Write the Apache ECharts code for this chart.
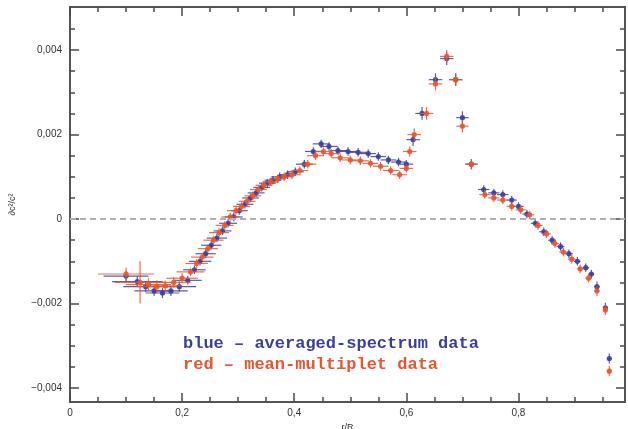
<!DOCTYPE html>
<html>
<head>
<meta charset="utf-8">
<script src="https://cdn.jsdelivr.net/npm/echarts@6/dist/echarts.min.js"></script>
<style>
  html, body { margin: 0; padding: 0; background: #ffffff; }
  #chart { width: 628px; height: 429px; }
</style>
</head>
<body>
<div id="chart"></div>
<script>
// Sound-speed difference profile: averaged-spectrum vs mean-multiplet inversions
const xMajor = [0, 0.2, 0.4, 0.6, 0.8];
const xMinor = [0.05, 0.1, 0.15, 0.25, 0.3, 0.35, 0.45, 0.5, 0.55, 0.65, 0.7, 0.75, 0.85, 0.9, 0.95];
const yMajor = [-0.004, -0.002, 0, 0.002, 0.004];
const yMinor = [-0.0035, -0.003, -0.0025, -0.0015, -0.001, -0.0005, 0.0005, 0.001, 0.0015, 0.0025, 0.003, 0.0035, 0.0045];

// averaged-spectrum data: radius, value, radial half-width, value error
const blueR = [0.10, 0.12, 0.135, 0.15, 0.165, 0.18, 0.195, 0.21, 0.222, 0.232, 0.242, 0.252, 0.262, 0.272, 0.282, 0.292, 0.302, 0.312, 0.322, 0.332, 0.342, 0.352, 0.362, 0.374, 0.388, 0.402, 0.418, 0.434, 0.448, 0.462, 0.478, 0.496, 0.514, 0.532, 0.55, 0.568, 0.586, 0.60, 0.612, 0.628, 0.652, 0.672, 0.688, 0.70, 0.716, 0.738, 0.756, 0.772, 0.788, 0.80, 0.815, 0.83, 0.845, 0.86, 0.875, 0.89, 0.905, 0.92, 0.93, 0.94, 0.955, 0.962];
const blueV = [-0.00135, -0.00148, -0.0016, -0.0017, -0.00175, -0.0017, -0.0016, -0.00145, -0.0012, -0.001, -0.00082, -0.00062, -0.00045, -0.00028, -0.0001, 0.00005, 0.0002, 0.00035, 0.0005, 0.00062, 0.00075, 0.00085, 0.00092, 0.001, 0.00105, 0.00112, 0.0013, 0.0016, 0.00178, 0.00172, 0.00162, 0.0016, 0.00158, 0.00155, 0.00148, 0.0014, 0.00135, 0.0013, 0.00188, 0.0025, 0.0033, 0.0038, 0.0033, 0.0024, 0.0013, 0.0007, 0.00062, 0.00058, 0.00045, 0.0003, 0.00012, -0.0001, -0.0003, -0.0005, -0.00065, -0.00082, -0.001, -0.00115, -0.0013, -0.0016, -0.0021, -0.0033];
const blueDR = [0.04, 0.045, 0.04, 0.035, 0.03, 0.03, 0.03, 0.025, 0.02, 0.02, 0.018, 0.018, 0.018, 0.016, 0.016, 0.016, 0.015, 0.015, 0.015, 0.015, 0.015, 0.015, 0.015, 0.015, 0.015, 0.015, 0.015, 0.015, 0.015, 0.015, 0.015, 0.015, 0.015, 0.014, 0.014, 0.014, 0.013, 0.012, 0.012, 0.012, 0.012, 0.012, 0.012, 0.011, 0.011, 0.01, 0.01, 0.01, 0.009, 0.009, 0.008, 0.008, 0.008, 0.007, 0.007, 0.007, 0.006, 0.006, 0.005, 0.005, 0.004, 0.004];
const blueDV = [0.00012, 0.00012, 0.00012, 0.00012, 0.00012, 0.00012, 0.00012, 0.0001, 0.0001, 0.0001, 0.0001, 0.0001, 0.0001, 0.0001, 0.0001, 0.0001, 0.0001, 0.0001, 0.0001, 0.0001, 0.0001, 0.0001, 0.0001, 0.0001, 0.0001, 0.0001, 0.0001, 0.0001, 0.0001, 0.0001, 0.0001, 0.0001, 0.0001, 0.0001, 0.0001, 0.0001, 0.0001, 0.0001, 0.00015, 0.00015, 0.00015, 0.00015, 0.00015, 0.00015, 0.00012, 0.0001, 0.0001, 0.0001, 0.0001, 0.0001, 0.0001, 0.0001, 0.0001, 0.0001, 0.0001, 0.0001, 0.0001, 0.0001, 0.0001, 0.00012, 0.00012, 0.00012];

// mean-multiplet data: radius, value, radial half-width, value error
const redR = [0.10, 0.125, 0.14, 0.155, 0.17, 0.185, 0.20, 0.215, 0.226, 0.236, 0.246, 0.256, 0.266, 0.276, 0.286, 0.296, 0.306, 0.316, 0.326, 0.336, 0.346, 0.358, 0.37, 0.382, 0.396, 0.41, 0.424, 0.438, 0.452, 0.466, 0.482, 0.50, 0.518, 0.536, 0.554, 0.572, 0.588, 0.60, 0.606, 0.614, 0.636, 0.652, 0.672, 0.688, 0.70, 0.716, 0.74, 0.756, 0.772, 0.788, 0.804, 0.82, 0.835, 0.85, 0.865, 0.88, 0.895, 0.91, 0.925, 0.94, 0.955, 0.962];
const redV = [-0.0013, -0.0015, -0.00155, -0.0016, -0.00158, -0.0015, -0.0014, -0.00125, -0.00105, -0.0009, -0.0007, -0.0005, -0.00032, -0.00015, 0.00005, 0.0002, 0.0003, 0.00042, 0.00055, 0.0007, 0.0008, 0.00088, 0.00095, 0.001, 0.00105, 0.00115, 0.0013, 0.0015, 0.0016, 0.00155, 0.00145, 0.0014, 0.00138, 0.00132, 0.00125, 0.00115, 0.00105, 0.0012, 0.0016, 0.002, 0.0025, 0.0032, 0.00385, 0.0033, 0.0022, 0.0013, 0.00058, 0.0005, 0.00045, 0.0003, 0.00022, 0.0001, -0.00015, -0.00035, -0.00058, -0.00078, -0.00095, -0.00118, -0.0014, -0.0017, -0.00215, -0.0036];
const redDR = [0.05, 0.045, 0.04, 0.035, 0.03, 0.03, 0.028, 0.025, 0.02, 0.02, 0.018, 0.018, 0.018, 0.016, 0.016, 0.016, 0.015, 0.015, 0.015, 0.015, 0.015, 0.015, 0.015, 0.015, 0.015, 0.015, 0.015, 0.015, 0.015, 0.015, 0.015, 0.015, 0.015, 0.014, 0.014, 0.014, 0.013, 0.012, 0.012, 0.012, 0.012, 0.012, 0.012, 0.012, 0.011, 0.011, 0.01, 0.01, 0.01, 0.009, 0.009, 0.008, 0.008, 0.008, 0.007, 0.007, 0.007, 0.006, 0.006, 0.005, 0.004, 0.004];
const redDV = [0.00015, 0.0005, 0.00015, 0.00015, 0.00012, 0.00012, 0.00012, 0.0001, 0.0001, 0.0001, 0.0001, 0.0001, 0.0001, 0.0001, 0.0001, 0.0001, 0.0001, 0.0001, 0.0001, 0.0001, 0.0001, 0.0001, 0.0001, 0.0001, 0.0001, 0.0001, 0.0001, 0.0001, 0.0001, 0.0001, 0.0001, 0.0001, 0.0001, 0.0001, 0.0001, 0.0001, 0.0001, 0.0001, 0.00012, 0.00015, 0.00015, 0.00015, 0.00015, 0.00015, 0.00015, 0.00012, 0.0001, 0.0001, 0.0001, 0.0001, 0.0001, 0.0001, 0.0001, 0.0001, 0.0001, 0.0001, 0.0001, 0.0001, 0.0001, 0.00012, 0.00012, 0.00012];

const blueLabel = 'blue – averaged-spectrum data';
const redLabel = 'red – mean-multiplet data';

const BLUE = '#3b3f9c';
const RED = '#e8552e';
const FRAME = '#4a4a4a';

function rows(r, v, dr, dv) {
  return r.map((x, i) => [x, v[i], dr[i], dv[i]]);
}

function fmtNum(v) {
  if (Math.abs(v) < 1e-12) return '0';
  const digits = Math.abs(v) < 0.01 ? 3 : 1;
  return v.toFixed(digits).replace('.', ',').replace('-', '−');
}

function errorBars(color) {
  return function (params, api) {
    const r = api.value(0), v = api.value(1), dr = api.value(2), dv = api.value(3);
    const c = api.coord([r, v]);
    const a = api.coord([r - dr, v]);
    const b = api.coord([r + dr, v]);
    const t = api.coord([r, v + dv]);
    const d = api.coord([r, v - dv]);
    const lineStyle = { stroke: color, lineWidth: 1.2, opacity: 0.85 };
    return {
      type: 'group',
      children: [
        { type: 'line', shape: { x1: a[0], y1: a[1], x2: b[0], y2: b[1] }, style: lineStyle },
        { type: 'line', shape: { x1: t[0], y1: t[1], x2: d[0], y2: d[1] }, style: lineStyle },
        { type: 'circle', shape: { cx: c[0], cy: c[1], r: 2.6 }, style: { fill: color, opacity: 0.9 } }
      ]
    };
  };
}

const tickFont = { fontFamily: 'Liberation Sans, Arial, sans-serif', fontSize: 10, color: '#333' };

function xAxisDef(pos, values, len, labels) {
  return {
    type: 'value', position: pos, min: 0, max: 0.99,
    axisLine: { show: true, onZero: false, lineStyle: { color: FRAME, width: 1.5 } },
    axisTick: { show: true, inside: true, length: len, customValues: values, lineStyle: { color: FRAME, width: 1.5 } },
    axisLabel: labels ? Object.assign({ show: true, customValues: values, margin: 6, formatter: fmtNum }, tickFont) : { show: false },
    splitLine: { show: false }
  };
}

function yAxisDef(pos, values, len, labels) {
  return {
    type: 'value', position: pos, min: -0.00433, max: 0.00502,
    axisLine: { show: true, onZero: false, lineStyle: { color: FRAME, width: 1.5 } },
    axisTick: { show: true, inside: true, length: len, customValues: values, lineStyle: { color: FRAME, width: 1.5 } },
    axisLabel: labels ? Object.assign({ show: true, customValues: values, margin: 8, formatter: fmtNum }, tickFont) : { show: false },
    splitLine: { show: false }
  };
}

const xMain = xAxisDef('bottom', xMajor, 9, true);
xMain.name = 'r/R';
xMain.nameLocation = 'middle';
xMain.nameGap = 20;
xMain.nameTextStyle = { fontFamily: 'Liberation Sans, Arial, sans-serif', fontSize: 9, color: '#333' };

const yMain = yAxisDef('left', yMajor, 9, true);
yMain.name = '∂c²/c²';
yMain.nameLocation = 'middle';
yMain.nameGap = 53;
yMain.nameTextStyle = { fontFamily: 'Liberation Sans, Arial, sans-serif', fontSize: 9, color: '#333' };

const chart = echarts.init(document.getElementById('chart'), null, { renderer: 'canvas' });
chart.setOption({
  animation: false,
  backgroundColor: '#ffffff',
  grid: { left: 70, right: 3, top: 7, bottom: 27, containLabel: false, outerBoundsMode: 'none' },
  xAxis: [
    xMain,
    xAxisDef('bottom', xMinor, 5, false),
    xAxisDef('top', xMajor, 9, false),
    xAxisDef('top', xMinor, 5, false)
  ],
  yAxis: [
    yMain,
    yAxisDef('left', yMinor, 5, false),
    yAxisDef('right', yMajor, 9, false),
    yAxisDef('right', yMinor, 5, false)
  ],
  series: [
    {
      type: 'line', data: [], xAxisIndex: 0, yAxisIndex: 0, silent: true,
      markLine: {
        silent: true, symbol: 'none', label: { show: false },
        lineStyle: { color: '#b0b0b0', type: [6, 4], width: 2 },
        data: [{ yAxis: 0 }]
      }
    },
    {
      name: 'averaged-spectrum', type: 'custom', xAxisIndex: 0, yAxisIndex: 0,
      renderItem: errorBars(BLUE), data: rows(blueR, blueV, blueDR, blueDV), z: 3
    },
    {
      name: 'mean-multiplet', type: 'custom', xAxisIndex: 0, yAxisIndex: 0,
      renderItem: errorBars(RED), data: rows(redR, redV, redDR, redDV), z: 4
    }
  ],
  graphic: [
    {
      type: 'text', left: 183, top: 335,
      style: { text: blueLabel, fill: BLUE, font: 'bold 17px "Liberation Mono", monospace' }
    },
    {
      type: 'text', left: 183, top: 356,
      style: { text: redLabel, fill: RED, font: 'bold 17px "Liberation Mono", monospace' }
    }
  ]
});
</script>
</body>
</html>
